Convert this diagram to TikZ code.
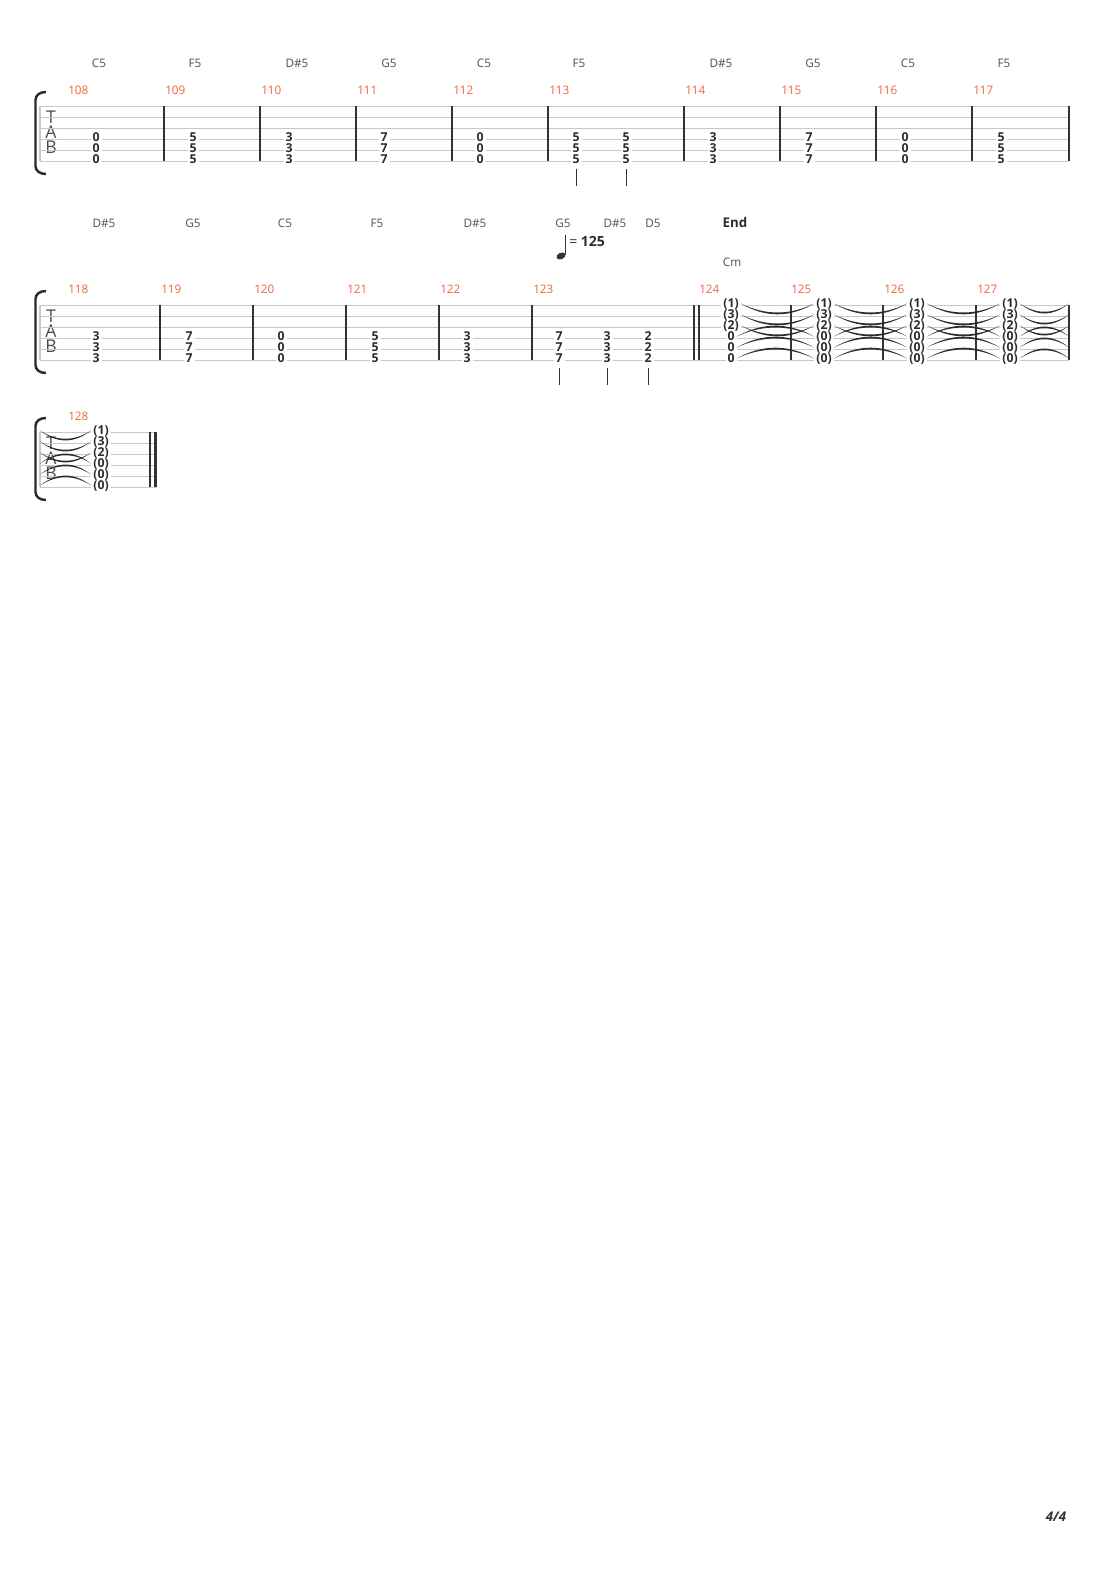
\documentclass[tikz,border=0pt]{standalone}
\usepackage{fontspec}
\setmainfont{Open Sans}
\usetikzlibrary{calc}
\definecolor{staffgray}{RGB}{200,200,200}
\definecolor{bargray}{RGB}{51,51,51}
\definecolor{chordgray}{RGB}{80,80,80}
\definecolor{numorange}{RGB}{242,101,59}
\definecolor{fretgray}{RGB}{45,45,45}
\tikzset{
  staffline/.style={staffgray, line width=0.6pt},
  barline/.style={bargray, line width=0.8pt},
  chord/.style={text=chordgray, font=\fontsize{8.8}{10}\selectfont, inner sep=0pt},
  barnum/.style={text=numorange, font=\fontsize{8.8}{10}\selectfont, anchor=west, inner sep=0pt},
  fret/.style={text=fretgray, font=\bfseries\fontsize{9.2}{10}\selectfont, fill=white, inner xsep=1.5pt, inner ysep=0pt, text height=6.6pt, text depth=0pt},
  tabletter/.style={text=fretgray!85, font=\fontsize{13.2}{15}\selectfont, inner sep=0pt},
  stem/.style={bargray, line width=0.6pt},
  brace/.style={bargray!80!black, line width=1.8pt},
  tiefill/.style={fill=fretgray},
}
% tie: from, to, bend
\newcommand\tie[3]{%
  \fill[tiefill] (#1) .. controls ($(#1)!0.33!(#2)+(0,#3)$) and ($(#1)!0.67!(#2)+(0,#3)$) .. (#2)
    .. controls ($(#1)!0.67!(#2)+(0,1.2*#3)$) and ($(#1)!0.33!(#2)+(0,1.2*#3)$) .. (#1) -- cycle;}
\begin{document}
\begin{tikzpicture}[x=0.75pt,y=-0.75pt]
\useasboundingbox[fill=white] (0,0) rectangle (1110,1570);

% braces and TAB letters
\foreach \t/\b in {92/174,291/373,418/500}
  \draw[brace] (46,\t) .. controls (40,\t) and (35.5,\t+3) .. (35.5,\t+8) -- (35.5,\b-8) .. controls (35.5,\b-3) and (40,\b) .. (46,\b);
\foreach \y/\i in {106/1,305/2,432/3} {
  \node[tabletter] (T\i) at (51,\y+11.5) {T};
  \node[tabletter] (A\i) at (51,\y+26.5) {A};
  \node[tabletter] (B\i) at (51,\y+41.5) {B};
}

% system 1
\foreach \s in {0,...,5}
  \draw[staffline] (40,106+11*\s) -- (1069,106+11*\s);
\draw[staffline, line width=1pt] (40,106) -- (40,161);
\foreach \x in {164,260,356,452,548,684,780,876,972,1069}
  \draw[barline] (\x,106) -- (\x,161);
\foreach \x/\c [count=\i] in {99/C5,195/F5,297/D\#5,389/G5,484/C5,579/F5,721/D\#5,813/G5,908/C5,1004/F5}
  \node[chord] (ca\i) at (\x,63) {\c};
\foreach \x/\m in {67/108,164/109,260/110,356/111,452/112,548/113,684/114,780/115,876/116,972/117}
  \node[barnum] (m\m) at (\x+1,90) {\m};
\foreach \x/\f [count=\i] in {96/0,193/5,289/3,384/7,480/0,576/5,626/5,713/3,809/7,905/0,1001/5}
  \foreach \s in {3,4,5}
    \node[fret] (a\i-\s) at (\x,104.5+11*\s) {\f};
\foreach \i in {6,7}
  \draw[stem] ($(a\i-5.south)+(0,5)$) -- ++(0,17);

% system 2
\foreach \s in {0,...,5}
  \draw[staffline] (40,305+11*\s) -- (1069,305+11*\s);
\draw[staffline, line width=1pt] (40,305) -- (40,360);
\foreach \x in {160,253,346,439,532,694,699,791,883,976,1069}
  \draw[barline] (\x,305) -- (\x,360);
\foreach \x/\c [count=\i] in {104/D\#5,193/G5,285/C5,377/F5,475/D\#5,563/G5,615/D\#5,653/D5}
  \node[chord] (cb\i) at (\x,223) {\c};
\node[chord] (cb9) at (732,262) {Cm};
\node[text=fretgray, font=\bfseries\fontsize{10}{12}\selectfont] (endmark) at (735,222) {End};
% tempo
\draw[stem, line width=0.8pt] (565.5,235) -- (565.5,255);
\fill[bargray, rotate around={25:(561,256)}] (561,256) ellipse [x radius=4.8, y radius=3.2];
\node[text=fretgray, anchor=west, inner sep=0pt, font=\fontsize{10.5}{12}\selectfont] (tempo) at (569,241.5) {= \textbf{125}};
\foreach \x/\m in {67/118,160/119,253/120,346/121,439/122,532/123,698/124,790/125,883/126,976/127}
  \node[barnum] (m\m) at (\x+1,289) {\m};
\foreach \x/\f [count=\i] in {96/3,189/7,281/0,375/5,467/3,559/7,607/3,648/2}
  \foreach \s in {3,4,5}
    \node[fret] (b\i-\s) at (\x,303.5+11*\s) {\f};
\foreach \i in {6,7,8}
  \draw[stem] ($(b\i-5.south)+(0,5)$) -- ++(0,17);
% let ring chords
\foreach \s/\f in {1/{(1)},2/{(3)},3/{(2)},4/0,5/0,6/0}
  \node[fret] (r124-\s) at (731,292.5+11*\s) {\f};
\foreach \x/\m in {824/125,917/126,1010/127}
  \foreach \s/\f in {1/{(1)},2/{(3)},3/{(2)},4/{(0)},5/{(0)},6/{(0)}}
    \node[fret] (r\m-\s) at (\x,292.5+11*\s) {\f};
\foreach \s in {1,...,6}
  \coordinate (e2-\s) at (1069,292.5+11*\s);
\foreach \a/\b in {124/125,125/126,126/127} {
  \foreach \s in {1,2,3} \tie{r\a-\s.east}{r\b-\s.west}{12};
  \foreach \s in {4,5,6} \tie{r\a-\s.east}{r\b-\s.west}{-12};
}
\foreach \s in {1,2,3} \tie{r127-\s.east}{e2-\s}{11};
\foreach \s in {4,5,6} \tie{r127-\s.east}{e2-\s}{-11};

% system 3
\foreach \s in {0,...,5}
  \draw[staffline] (40,432+11*\s) -- (157,432+11*\s);
\draw[staffline, line width=1pt] (40,432) -- (40,487);
\draw[barline] (150,432) -- (150,487);
\fill[bargray] (153.5,432) rectangle (157,487);
\node[barnum] (m128) at (68,416) {128};
\foreach \s in {1,...,6}
  \coordinate (b3-\s) at (40,419.5+11*\s);
\foreach \s/\f in {1/{(1)},2/{(3)},3/{(2)},4/{(0)},5/{(0)},6/{(0)}}
  \node[fret] (r128-\s) at (101,419.5+11*\s) {\f};
\foreach \s in {1,2,3} \tie{b3-\s}{r128-\s.west}{11};
\foreach \s in {4,5,6} \tie{b3-\s}{r128-\s.west}{-11};

% page number
\node[text=bargray, font=\bfseries\itshape\fontsize{10}{12}\selectfont] (pageno) at (1056,1517) {4/4};
\end{tikzpicture}
\end{document}
